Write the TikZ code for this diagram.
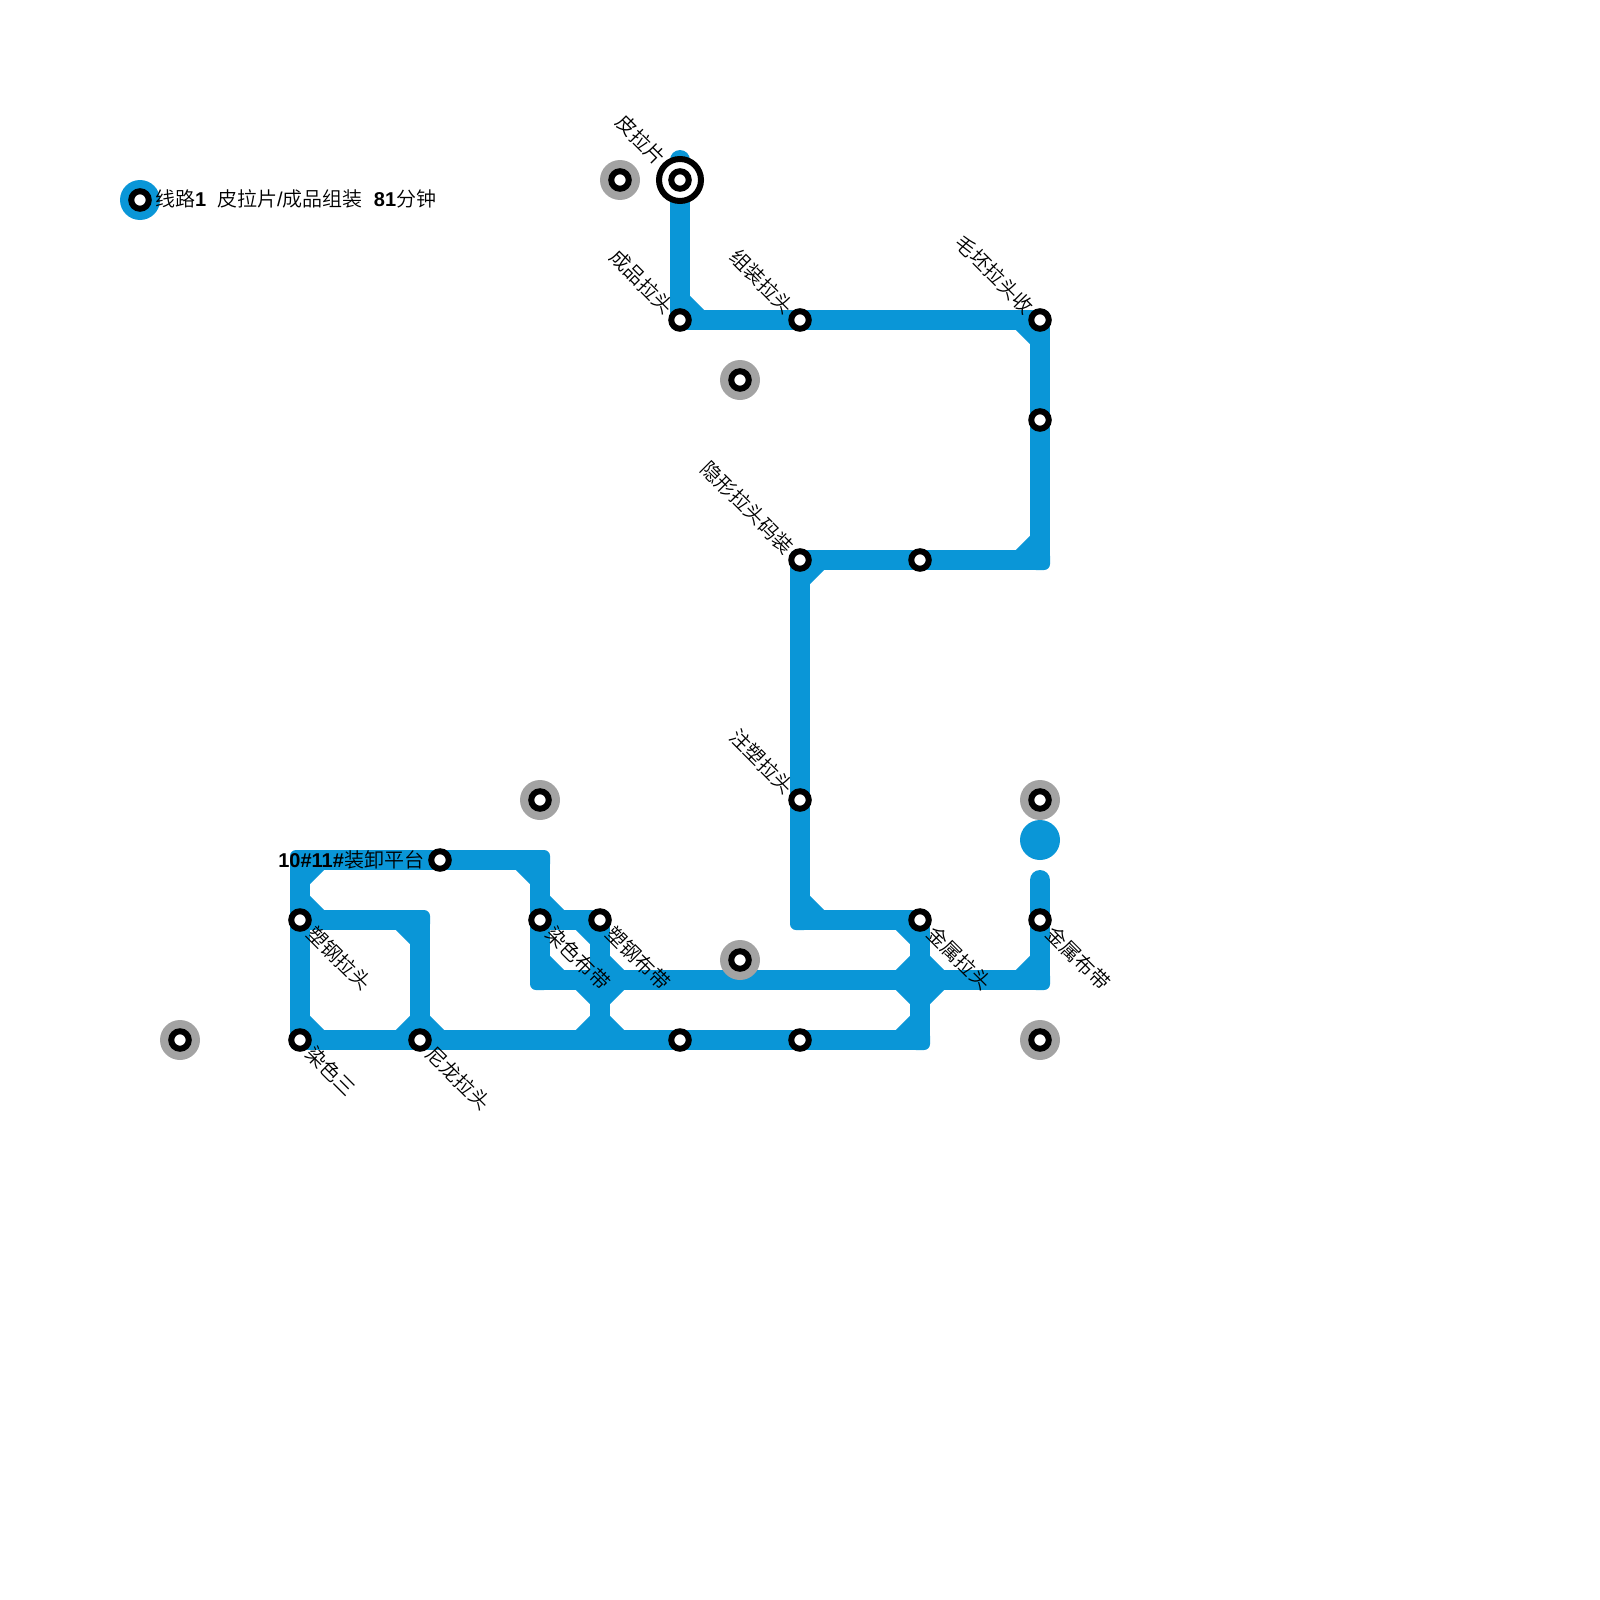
\documentclass[tikz,border=0pt]{standalone}
\usepackage{fontspec}
\usetikzlibrary{calc}
\setmainfont{Liberation Sans}
\newfontfamily\cjk{Noto Sans CJK SC DemiLight}
\definecolor{lineblue}{HTML}{0A96D7}
\definecolor{haloGray}{HTML}{A3A3A3}
\newcommand{\cj}[1]{{\cjk #1}}
\newcommand{\bl}[1]{{\bfseries #1}}
\tikzset{
  x=1pt,y=-1pt,
  metro/.style={draw=lineblue,line width=20pt,line cap=butt,line join=bevel},
  metrocap/.style={draw=lineblue,line width=20pt,line cap=round},
  stationdot/.style={circle,draw=black,fill=white,line width=6pt,minimum size=17.5pt,inner sep=0pt,outer sep=0pt},
  halo/.style={circle,fill=haloGray,minimum size=40pt,inner sep=0pt,outer sep=0pt},
  bluehalo/.style={circle,fill=lineblue,minimum size=40pt,inner sep=0pt,outer sep=0pt},
  bigring/.style={circle,draw=black,fill=white,line width=6pt,minimum size=42pt,inner sep=0pt,outer sep=0pt},
  lab/.style={font=\fontsize{20}{24}\selectfont,inner sep=0pt,outer sep=0pt},
  labse/.style={lab,rotate=-45,anchor=west},
  labnw/.style={lab,rotate=-45,anchor=east},
}
\newcommand{\cham}[3]{\draw[metro] ($(#1)+(#2*20,0)$) -- ($(#1)+(0,#3*20)$);}
\newcommand{\rnd}[1]{\fill[lineblue,rounded corners=6pt] ($(#1)+(-10,-10)$) rectangle ($(#1)+(10,10)$);}
\begin{document}
\begin{tikzpicture}
\useasboundingbox (0,0) rectangle (1600,1600);
% junction coordinates
\coordinate (top) at (680,160);
\coordinate (cA) at (680,320);
\coordinate (cB) at (1040,320);
\coordinate (cC) at (1040,560);
\coordinate (cD) at (800,560);
\coordinate (cE) at (800,920);
\coordinate (cF) at (920,920);
\coordinate (cG) at (920,980);
\coordinate (cH) at (920,1040);
\coordinate (cI) at (300,1040);
\coordinate (cJ) at (300,860);
\coordinate (cK) at (540,860);
\coordinate (cL) at (540,920);
\coordinate (cM) at (540,980);
\coordinate (cN) at (600,920);
\coordinate (cO) at (600,980);
\coordinate (cP) at (600,1040);
\coordinate (cQ) at (1040,980);
\coordinate (cR) at (1040,880);
\coordinate (cS) at (300,920);
\coordinate (cT) at (420,920);
\coordinate (cU) at (420,1040);
% lines
\draw[metrocap] (top) -- ($(top)+(0,1)$);
\draw[metrocap] (cR) -- ($(cR)+(0,1)$);
\draw[metro] (top) -- (cA) -- (cB) -- (cC) -- (cD) -- (cE) -- (cF) -- (cH) -- (cI) -- (cJ) -- (cK) -- (cM) -- (cQ) -- (cR);
\draw[metro] (cS) -- (cT) -- (cU);
\draw[metro] (cL) -- (cN) -- (cP);
\foreach \c in {cA,cB,cC,cD,cE,cF,cH,cI,cJ,cK,cM,cN,cQ,cS,cT}{\rnd{\c}}
% chamfers
\cham{cA}{1}{-1}
\cham{cB}{-1}{1}
\cham{cC}{-1}{-1}
\cham{cD}{1}{1}
\cham{cE}{1}{-1}
\cham{cF}{-1}{1}
\cham{cG}{-1}{-1}\cham{cG}{1}{-1}\cham{cG}{-1}{1}\cham{cG}{1}{1}
\cham{cH}{-1}{-1}
\cham{cQ}{-1}{-1}
\cham{cM}{1}{-1}
\cham{cL}{1}{-1}
\cham{cN}{-1}{1}
\cham{cO}{1}{-1}\cham{cO}{-1}{1}\cham{cO}{1}{1}
\cham{cP}{-1}{-1}\cham{cP}{1}{-1}
\cham{cK}{-1}{1}
\cham{cJ}{1}{1}
\cham{cS}{1}{-1}
\cham{cT}{-1}{1}
\cham{cU}{-1}{-1}\cham{cU}{1}{-1}
\cham{cI}{1}{-1}
% stand-alone halos
\node[halo] (h1) at (620,180) {};
\node[halo] (h2) at (740,380) {};
\node[halo] (h3) at (540,800) {};
\node[halo] (h4) at (1040,800) {};
\node[halo] (h5) at (740,960) {};
\node[halo] (h6) at (1040,1040) {};
\node[halo] (h7) at (180,1040) {};
\node[bluehalo] (legend) at (140,200) {};
\node[bluehalo] (blue) at (1040,840) {};
\node[bigring] (ring) at (680,180) {};
% stations
\foreach \n/\p in {s1/{620,180},s2/{740,380},s3/{540,800},s4/{1040,800},s5/{740,960},s6/{1040,1040},s7/{180,1040},s8/{140,200},s9/{680,180},
  s10/{680,320},s11/{800,320},s12/{1040,320},s13/{1040,420},s14/{800,560},s15/{920,560},s16/{800,800},s17/{920,920},s18/{1040,920},
  s19/{800,1040},s20/{680,1040},s21/{600,920},s22/{540,920},s23/{440,860},s24/{300,920},s25/{300,1040},s26/{420,1040}}
  {\node[stationdot] (\n) at (\p) {};}
% labels
\node[lab,anchor=west] (legtext) at (155,199) {\cj{线路}\bl{1}\ \ \cj{皮拉片}/\cj{成品组装}\ \ \bl{81}\cj{分钟}};
\node[lab,anchor=east] (lplat) at (424,859.5) {\bl{10\#11\#}\cj{装卸平台}};
\node[labnw] (l1) at (662,161) {\cj{皮拉片}};
\node[labnw] (l2) at (670,310) {\cj{成品拉头}};
\node[labnw] (l3) at (790,310) {\cj{组装拉头}};
\node[labnw] (l4) at (1030,310) {\cj{毛坯拉头收}};
\node[labnw] (l5) at (790,550) {\cj{隐形拉头码装}};
\node[labnw] (l6) at (790,790) {\cj{注塑拉头}};
\node[labse] (l7) at (311,930) {\cj{塑钢拉头}};
\node[labse] (l8) at (310,1050) {\cj{染色三}};
\node[labse] (l9) at (430,1050) {\cj{尼龙拉头}};
\node[labse] (l10) at (550,930) {\cj{染色布带}};
\node[labse] (l11) at (610,930) {\cj{塑钢布带}};
\node[labse] (l12) at (931,930) {\cj{金属拉头}};
\node[labse] (l13) at (1050,930) {\cj{金属布带}};
\end{tikzpicture}
\end{document}
